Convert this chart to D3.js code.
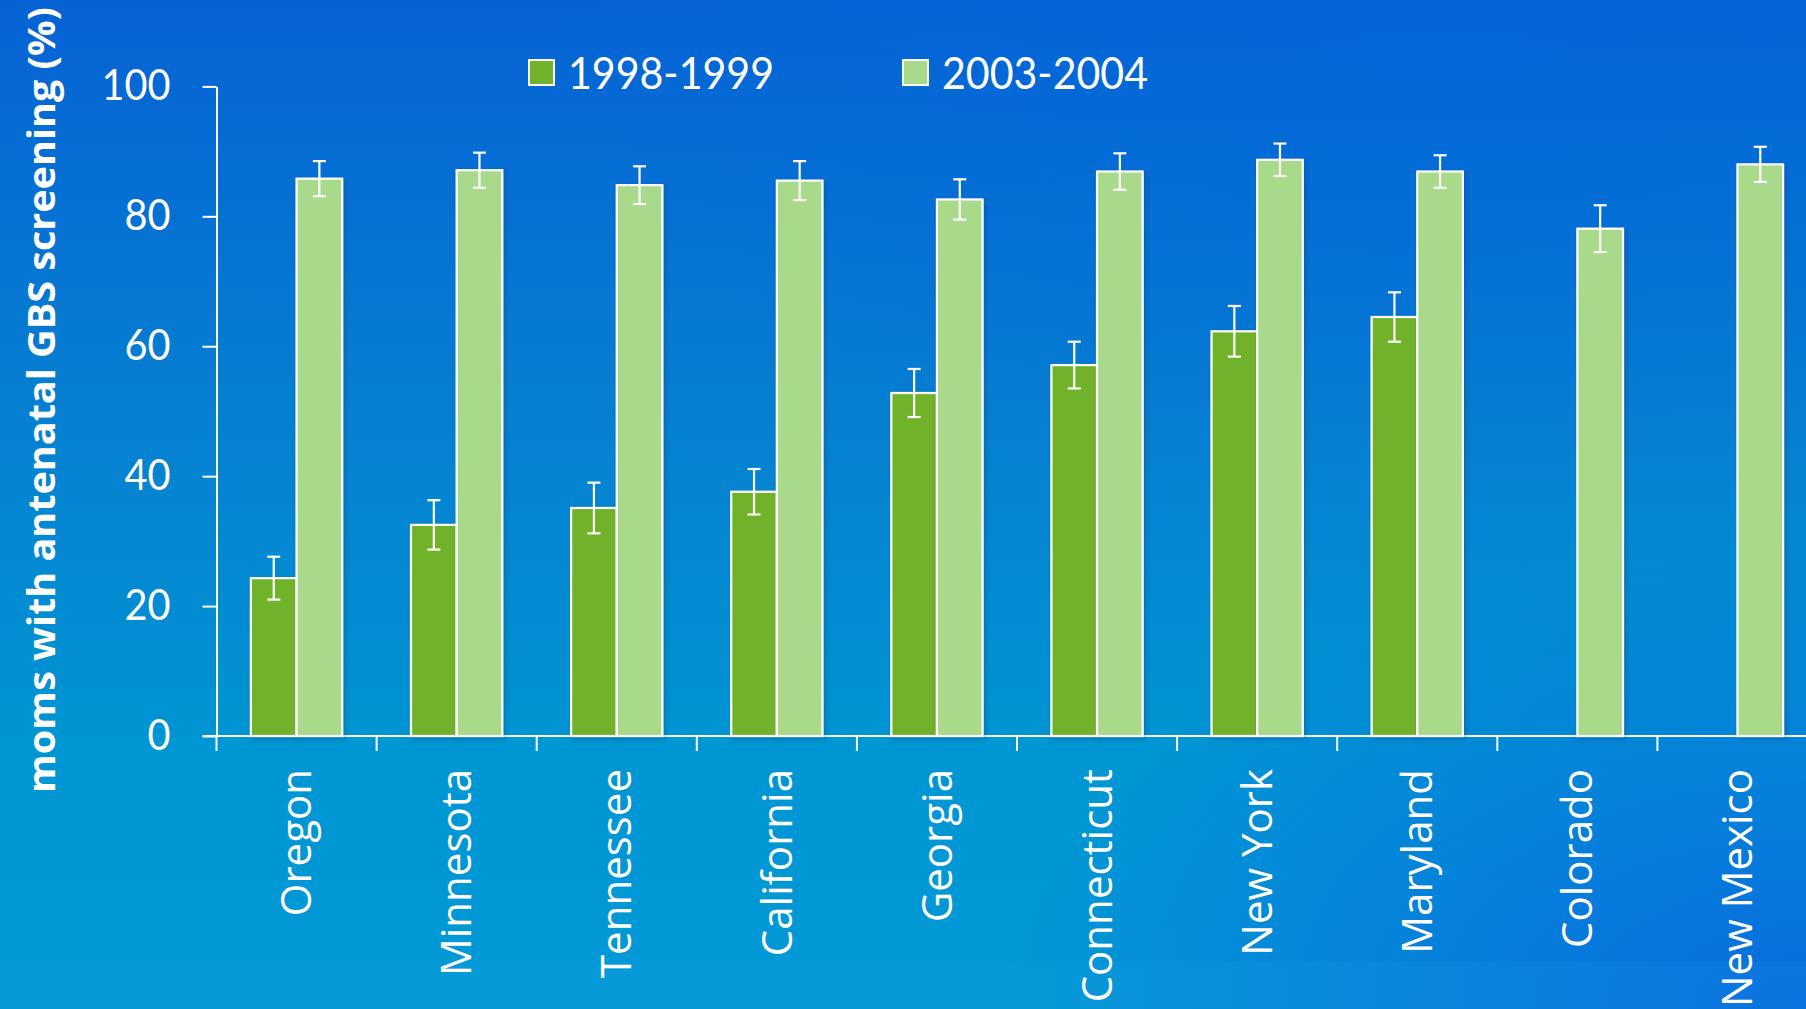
<!DOCTYPE html>
<html>
<head>
    <meta charset="utf-8">
    <script src="https://d3js.org/d3.v7.min.js"></script>
    <style>
        html, body {
            margin: 0;
            padding: 0;
            overflow: hidden;
        }

        text {
            fill: white;
        }

        .tick-num {
            font-family: Lato, "Open Sans", sans-serif;
            font-size: 42px;
        }

        .state {
            font-family: "Open Sans", sans-serif;
            font-size: 42px;
        }

        .ylab {
            font-family: "Open Sans", sans-serif;
            font-weight: 700;
            font-size: 38px;
        }

        .legend {
            font-family: Lato, "Open Sans", sans-serif;
            font-size: 45px;
        }
    </style>
</head>
<body>
    <script>
        // chart values
        var states = ["Oregon", "Minnesota", "Tennessee", "California", "Georgia",
            "Connecticut", "New York", "Maryland", "Colorado", "New Mexico"];
        var series = ["1998-1999", "2003-2004"];
        var early = [24.3, 32.5, 35.1, 37.6, 52.8, 57.1, 62.3, 64.5, null, null];
        var earlyErr = [3.3, 3.8, 3.9, 3.5, 3.7, 3.6, 3.9, 3.8, null, null];
        var late = [85.8, 87.1, 84.8, 85.5, 82.6, 86.9, 88.7, 86.9, 78.1, 88.0];
        var lateErr = [2.7, 2.7, 2.9, 3.0, 3.1, 2.8, 2.5, 2.5, 3.6, 2.7];
        var yTicks = [0, 20, 40, 60, 80, 100];

        var colors = { "1998-1999": "#70b32a", "2003-2004": "#a9d98b" };

        var W = 1806, H = 1009;

        var svg = d3.select("body").append("svg")
            .attr("width", W).attr("height", H);

        // background gradient (blue slide)
        var defs = svg.append("defs");
        var bg = defs.append("linearGradient").attr("id", "bg")
            .attr("x1", 0).attr("y1", 0).attr("x2", 0).attr("y2", 1);
        bg.append("stop").attr("offset", "0%").attr("stop-color", "#0562d5");
        bg.append("stop").attr("offset", "40%").attr("stop-color", "#067fd1");
        bg.append("stop").attr("offset", "75%").attr("stop-color", "#0096d3");
        bg.append("stop").attr("offset", "100%").attr("stop-color", "#0399d6");

        var corner = defs.append("radialGradient").attr("id", "corner")
            .attr("cx", 1).attr("cy", 1).attr("r", 0.45);
        corner.append("stop").attr("offset", "0%").attr("stop-color", "#0a66e0").attr("stop-opacity", 0.9);
        corner.append("stop").attr("offset", "100%").attr("stop-color", "#0a66e0").attr("stop-opacity", 0);

        var topRight = defs.append("radialGradient").attr("id", "topright")
            .attr("cx", 0.8).attr("cy", 0).attr("r", 0.5);
        topRight.append("stop").attr("offset", "0%").attr("stop-color", "#0068dc").attr("stop-opacity", 0.6);
        topRight.append("stop").attr("offset", "100%").attr("stop-color", "#0068dc").attr("stop-opacity", 0);

        var shadow = defs.append("filter").attr("id", "shadow")
            .attr("x", "-20%").attr("y", "-5%").attr("width", "140%").attr("height", "110%");
        shadow.append("feDropShadow").attr("dx", 2).attr("dy", 2)
            .attr("stdDeviation", 2).attr("flood-color", "#003a70").attr("flood-opacity", 0.35);

        svg.append("rect").attr("width", W).attr("height", H).attr("fill", "url(#bg)");
        svg.append("rect").attr("width", W).attr("height", H).attr("fill", "url(#topright)");
        svg.append("rect").attr("width", W).attr("height", H).attr("fill", "url(#corner)");
        // lighter band at the very bottom
        svg.append("rect").attr("x", 0).attr("y", 962).attr("width", W).attr("height", 47)
            .attr("fill", "#22b0e8").attr("opacity", 0.12);

        // scales
        var y = d3.scaleLinear().domain([0, 100]).range([736, 86.4]);

        var x0 = d3.scaleBand().domain(states)
            .range([216.5, 216.5 + 160.1 * states.length])
            .paddingInner(0.43).paddingOuter(0.215);
        var x1 = d3.scaleBand().domain(series).range([0, x0.bandwidth()]);

        // y axis
        var yAxis = d3.axisLeft(y).tickValues(yTicks).tickSize(14).tickPadding(32).tickSizeOuter(0);
        var gy = svg.append("g").attr("transform", "translate(216.5,0)").call(yAxis);
        gy.selectAll("path, line").attr("stroke", "white").attr("stroke-width", 2);
        gy.selectAll("text").attr("class", "tick-num").attr("fill", "white")
            .attr("font-family", null).attr("font-size", null)
            .attr("textLength", function (d) { return String(d).length * 23; })
            .attr("lengthAdjust", "spacingAndGlyphs");

        // x axis line + boundary ticks
        var gx = svg.append("g");
        gx.append("line")
            .attr("x1", 202.5).attr("x2", W).attr("y1", y(0)).attr("y2", y(0))
            .attr("stroke", "white").attr("stroke-width", 2);
        gx.selectAll("line.xt").data(states).enter().append("line")
            .attr("class", "xt")
            .attr("x1", function (d) { return x0(d) - x0.step() * x0.paddingOuter(); })
            .attr("x2", function (d) { return x0(d) - x0.step() * x0.paddingOuter(); })
            .attr("y1", y(0)).attr("y2", y(0) + 15)
            .attr("stroke", "white").attr("stroke-width", 2);

        // state labels, rotated
        svg.append("g").selectAll("text").data(states).enter().append("text")
            .attr("class", "state")
            .attr("text-anchor", "end")
            .attr("dy", "0.35em")
            .attr("transform", function (d) {
                return "translate(" + (x0(d) + x0.bandwidth() / 2) + ",769) rotate(-90)";
            })
            .text(function (d) { return d; });

        // bars
        var rows = states.map(function (s, i) {
            return [
                { state: s, key: series[0], v: early[i], e: earlyErr[i] },
                { state: s, key: series[1], v: late[i], e: lateErr[i] }
            ];
        });
        var flat = [].concat.apply([], rows).filter(function (d) { return d.v != null; });

        svg.append("g").selectAll("rect").data(flat).enter().append("rect")
            .attr("x", function (d) { return x0(d.state) + x1(d.key); })
            .attr("y", function (d) { return y(d.v); })
            .attr("width", x1.bandwidth())
            .attr("height", function (d) { return y(0) - y(d.v); })
            .attr("fill", function (d) { return colors[d.key]; })
            .attr("stroke", "white").attr("stroke-width", 2.2)
            .attr("filter", "url(#shadow)");

        // error bars
        var eb = svg.append("g").selectAll("g").data(flat).enter().append("g")
            .attr("transform", function (d) {
                return "translate(" + (x0(d.state) + x1(d.key) + x1.bandwidth() / 2) + ",0)";
            })
            .attr("stroke", "white").attr("stroke-width", 2.2);
        eb.append("line")
            .attr("y1", function (d) { return y(d.v + d.e); })
            .attr("y2", function (d) { return y(d.v - d.e); });
        eb.append("line").attr("x1", -6.5).attr("x2", 6.5)
            .attr("y1", function (d) { return y(d.v + d.e); })
            .attr("y2", function (d) { return y(d.v + d.e); });
        eb.append("line").attr("x1", -6.5).attr("x2", 6.5)
            .attr("y1", function (d) { return y(d.v - d.e); })
            .attr("y2", function (d) { return y(d.v - d.e); });

        // y title
        svg.append("text").attr("class", "ylab")
            .attr("text-anchor", "middle")
            .attr("dy", "0.35em")
            .attr("transform", "translate(42,400) rotate(-90)")
            .attr("textLength", 786).attr("lengthAdjust", "spacingAndGlyphs")
            .text("moms with antenatal GBS screening (%)");

        // legend
        var legX = [529, 903];
        var leg = svg.append("g").selectAll("g").data(series).enter().append("g")
            .attr("transform", function (d, i) { return "translate(" + legX[i] + ",60)"; });
        leg.append("rect").attr("width", 25).attr("height", 25)
            .attr("fill", function (d) { return colors[d]; })
            .attr("stroke", "white").attr("stroke-width", 2);
        leg.append("text").attr("class", "legend")
            .attr("x", 39).attr("y", 28.5)
            .attr("textLength", 206).attr("lengthAdjust", "spacingAndGlyphs")
            .text(function (d) { return d; });
    </script>
</body>
</html>
